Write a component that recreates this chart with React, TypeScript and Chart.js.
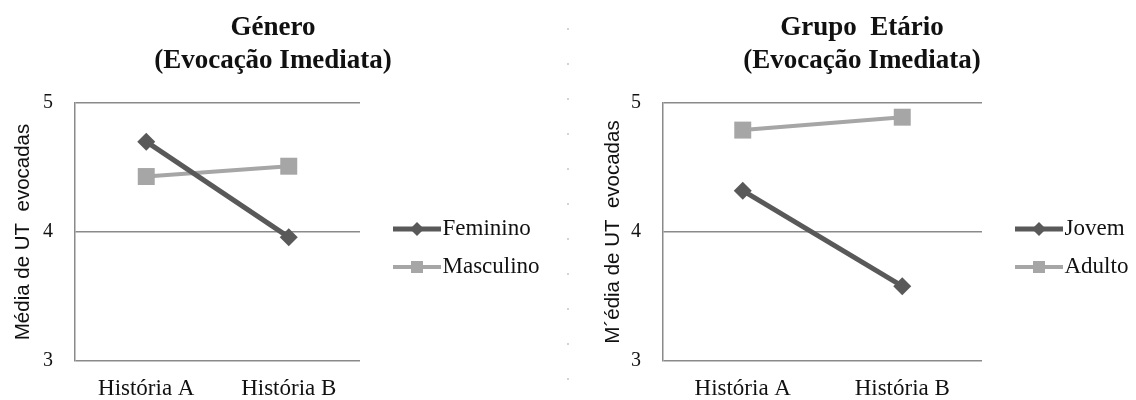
import React, { useEffect, useMemo, useRef } from 'react';
import { Chart, registerables } from 'chart.js';

Chart.register(...registerables);

// ---------- data ----------
const categories = ['História A', 'História B'];
const yTickValues = [3, 4, 5];

const generoTitle = ['Género', '(Evocação Imediata)'];
const generoYTitle = 'Média de UT  evocadas';
const generoSeriesNames = ['Feminino', 'Masculino'];
const feminino = [4.70, 3.96];
const masculino = [4.43, 4.51];

const grupoTitle = ['Grupo  Etário', '(Evocação Imediata)'];
const grupoYTitle = 'M´édia de UT  evocadas';
const grupoSeriesNames = ['Jovem', 'Adulto'];
const jovem = [4.32, 3.58];
const adulto = [4.79, 4.89];

// ---------- styles ----------
const DARK = '#595959';
const LIGHT = '#a6a6a6';
const GRID = '#8a8a8a';
const TEXT = '#111111';
const SERIF = '"Liberation Serif", "Times New Roman", serif';
const SANS = '"Liberation Sans", Arial, sans-serif';

const LEG_FS = 23;
const LEG_PAD = 15;
const LEG_BOX = 56;
const IMG_W = LEG_BOX + 20;
const IMG_H = 22;

type SeriesStyle = { color: string; width: number; point: 'rectRot' | 'rect'; radius: number };
const seriesStyles: SeriesStyle[] = [
  { color: DARK, width: 5, point: 'rectRot', radius: 9 },
  { color: LIGHT, width: 4, point: 'rect', radius: 12 },
];

type PanelCfg = {
  title: string[];
  yTitle: string;
  names: string[];
  values: number[][];
  titleCenter: number;
  plotLeft: number;
  plotRight: number;
  yTitleX: number;
};

const panels: PanelCfg[] = [
  {
    title: generoTitle,
    yTitle: generoYTitle,
    names: generoSeriesNames,
    values: [feminino, masculino],
    titleCenter: 273,
    plotLeft: 75,
    plotRight: 360,
    yTitleX: 23,
  },
  {
    title: grupoTitle,
    yTitle: grupoYTitle,
    names: grupoSeriesNames,
    values: [jovem, adulto],
    titleCenter: 862,
    plotLeft: 663,
    plotRight: 982,
    yTitleX: 613,
  },
];

function makeLegendImage(st: SeriesStyle): HTMLCanvasElement {
  const c = document.createElement('canvas');
  c.width = IMG_W;
  c.height = IMG_H;
  const ctx = c.getContext('2d')!;
  const cy = IMG_H / 2;
  const x0 = 28;
  const x1 = IMG_W;
  ctx.strokeStyle = st.color;
  ctx.lineWidth = st.width;
  ctx.beginPath();
  ctx.moveTo(x0, cy);
  ctx.lineTo(x1, cy);
  ctx.stroke();
  const mx = (x0 + x1) / 2;
  ctx.fillStyle = st.color;
  ctx.beginPath();
  if (st.point === 'rectRot') {
    const r = 7;
    ctx.moveTo(mx, cy - r);
    ctx.lineTo(mx + r, cy);
    ctx.lineTo(mx, cy + r);
    ctx.lineTo(mx - r, cy);
    ctx.closePath();
  } else {
    const s = 6;
    ctx.rect(mx - s, cy - s, 2 * s, 2 * s);
  }
  ctx.fill();
  return c;
}

function computeLayout(p: PanelCfg) {
  const mctx = document.createElement('canvas').getContext('2d')!;
  mctx.font = `${LEG_FS}px ${SERIF}`;
  const tw = Math.max(...p.names.map((n) => mctx.measureText(n).width));
  const natural = LEG_PAD + LEG_BOX + LEG_FS / 2 + tw + 10;
  const legendW = Math.floor(natural - 6);
  const L0 = Math.round(2 * p.titleCenter - p.plotRight - legendW);
  const W = Math.round(2 * (p.titleCenter - L0));
  const padR = L0 + W - legendW - p.plotRight;
  const yWidth = p.plotLeft - L0;
  const yTitlePad = p.yTitleX - L0 - (20.5 * 1.2) / 2;
  return { L0, W, padR, yWidth, yTitlePad, legendW };
}

function ChartPanel({ panel }: { panel: PanelCfg }) {
  const ref = useRef<HTMLCanvasElement>(null);
  const lay = useMemo(() => computeLayout(panel), [panel]);

  useEffect(() => {
    if (!ref.current) return;
    const images = seriesStyles.map(makeLegendImage);
    const chart = new Chart(ref.current, {
      type: 'line',
      data: {
        labels: categories,
        datasets: panel.values.map((vals, i) => {
          const st = seriesStyles[i];
          return {
            label: panel.names[i],
            data: vals,
            borderColor: st.color,
            backgroundColor: st.color,
            borderWidth: st.width,
            pointStyle: st.point,
            pointRadius: st.radius,
            pointBackgroundColor: st.color,
            pointBorderColor: st.color,
            pointBorderWidth: 0,
            tension: 0,
            fill: false,
          };
        }),
      },
      options: {
        responsive: false,
        animation: false,
        events: [],
        layout: { padding: { left: 0, right: lay.padR, top: 0, bottom: 0 } },
        scales: {
          x: {
            type: 'category',
            offset: true,
            grid: { display: false, drawTicks: false },
            border: { display: false },
            ticks: {
              padding: 14,
              color: TEXT,
              font: { family: SERIF, size: 23 },
              maxRotation: 0,
            },
            afterFit: (s: any) => {
              s.height = 39;
            },
          },
          y: {
            type: 'linear',
            min: 3,
            max: 5,
            afterBuildTicks: (s: any) => {
              s.ticks = yTickValues.map((v) => ({ value: v }));
            },
            grid: { color: GRID, lineWidth: 1.5, drawTicks: false },
            border: { display: true, color: GRID, width: 1.5 },
            ticks: {
              padding: 22,
              color: TEXT,
              font: { family: SERIF, size: 20 },
            },
            title: {
              display: true,
              text: panel.yTitle,
              color: TEXT,
              font: { family: SANS, size: 20.5 },
              padding: { top: lay.yTitlePad, bottom: 0 },
            },
            afterFit: (s: any) => {
              s.width = lay.yWidth;
            },
          },
        },
        plugins: {
          tooltip: { enabled: false },
          title: {
            display: true,
            text: panel.title,
            color: TEXT,
            font: { family: SERIF, size: 27, weight: 'bold', lineHeight: '33px' },
            padding: { top: 12, bottom: 25 },
          },
          legend: {
            display: true,
            position: 'right',
            align: 'center',
            fullSize: false,
            maxWidth: lay.legendW,
            title: {
              display: true,
              text: ' ',
              font: { size: 10, lineHeight: 1 },
              padding: { top: 0, bottom: 22 },
            },
            labels: {
              usePointStyle: true,
              pointStyleWidth: LEG_BOX,
              padding: LEG_PAD,
              color: TEXT,
              font: { family: SERIF, size: LEG_FS },
              generateLabels: (ch: any) =>
                ch.data.datasets.map((ds: any, i: number) => ({
                  text: ds.label,
                  pointStyle: images[i],
                  fillStyle: ds.borderColor,
                  strokeStyle: ds.borderColor,
                  lineWidth: 0,
                  hidden: false,
                  datasetIndex: i,
                  fontColor: TEXT,
                })),
            },
          },
        },
      } as any,
    });
    return () => chart.destroy();
  }, [panel, lay]);

  return (
    <canvas
      ref={ref}
      width={lay.W}
      height={400}
      style={{ position: 'absolute', left: lay.L0, top: 0, width: lay.W, height: 400 }}
    />
  );
}

export default function App() {
  return (
    <div
      style={{
        position: 'absolute',
        left: 0,
        top: 0,
        width: 1136,
        height: 400,
        overflow: 'hidden',
        background: '#ffffff',
      }}
    >
      <ChartPanel panel={panels[0]} />
      <ChartPanel panel={panels[1]} />
      <div
        style={{
          position: 'absolute',
          left: 567,
          top: 28,
          width: 2,
          height: 356,
          background:
            'repeating-linear-gradient(to bottom, #d4d4d4 0px, #d4d4d4 2px, transparent 2px, transparent 35px)',
        }}
      />
    </div>
  );
}
